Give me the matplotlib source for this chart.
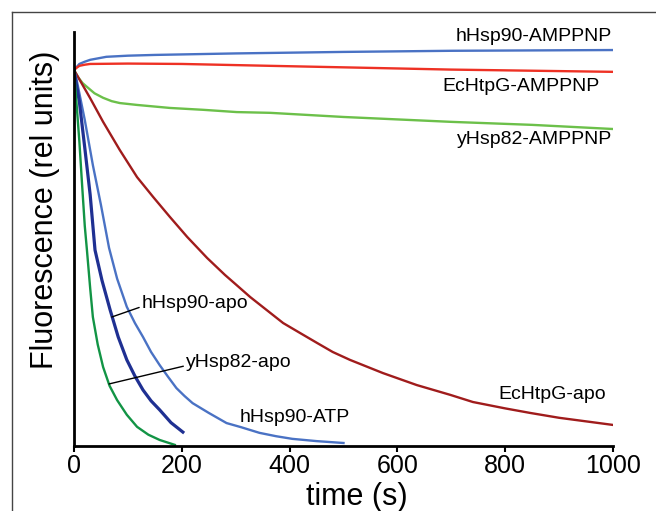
import matplotlib
matplotlib.use("Agg")
import matplotlib.pyplot as plt
from matplotlib.lines import Line2D

plt.rcParams["font.family"] = ["Liberation Sans", "DejaVu Sans"]

# time (s) and fluorescence (rel units, start = 1)
t_h90_amppnp = [0, 5, 10, 20, 30, 45, 60, 100, 150, 300, 500, 700, 1000]
f_h90_amppnp = [1.0, 1.008, 1.016, 1.022, 1.027, 1.031, 1.035, 1.038, 1.040,
                1.044, 1.048, 1.051, 1.053]

t_ec_amppnp = [0, 5, 10, 20, 30, 100, 200, 364, 500, 700, 1000]
f_ec_amppnp = [1.0, 1.006, 1.011, 1.014, 1.016, 1.017, 1.016, 1.011, 1.007,
               1.001, 0.995]

t_y82_amppnp = [0, 8, 16, 24, 38, 54, 70, 85, 117, 178, 240, 302, 364, 500,
                700, 850, 1000]
f_y82_amppnp = [1.0, 0.980, 0.965, 0.955, 0.938, 0.926, 0.917, 0.912, 0.907,
                0.899, 0.894, 0.888, 0.886, 0.875, 0.862, 0.854, 0.843]

t_ec_apo = [0, 30, 54, 85, 117, 147, 178, 210, 247, 280, 300, 327, 388, 420,
            451, 480, 512, 573, 636, 698, 740, 800, 846, 900, 1000]
f_ec_apo = [1.0, 0.925, 0.862, 0.787, 0.715, 0.662, 0.609, 0.556, 0.500,
            0.455, 0.430, 0.396, 0.327, 0.300, 0.274, 0.250, 0.229, 0.194,
            0.162, 0.136, 0.117, 0.100, 0.088, 0.075, 0.056]

t_h90_atp = [0, 5, 20, 35, 50, 65, 80, 98, 113, 128, 143, 159, 175, 190, 205,
             220, 250, 283, 310, 344, 375, 405, 450, 500]
f_h90_atp = [1.0, 0.973, 0.867, 0.747, 0.641, 0.527, 0.445, 0.370, 0.327,
             0.290, 0.250, 0.215, 0.183, 0.154, 0.133, 0.114, 0.088, 0.061,
             0.050, 0.035, 0.026, 0.019, 0.013, 0.008]

t_h90_apo = [0, 10, 20, 30, 39, 52, 67, 82, 98, 113, 128, 143, 159, 180, 202]
f_h90_apo = [1.0, 0.915, 0.793, 0.668, 0.521, 0.440, 0.362, 0.290, 0.229,
             0.186, 0.149, 0.120, 0.096, 0.062, 0.037]

t_y82_apo = [0, 5, 10, 15, 20, 24, 30, 35, 44, 54, 66, 80, 98, 117, 138, 159, 187]
f_y82_apo = [1.0, 0.905, 0.809, 0.695, 0.585, 0.521, 0.420, 0.343, 0.270,
             0.210, 0.160, 0.122, 0.083, 0.051, 0.030, 0.016, 0.003]

xticks = [0, 200, 400, 600, 800, 1000]

fig = plt.figure(figsize=(6.56, 5.11), dpi=100)
ax = fig.add_axes([0.1128, 0.1272, 0.8217, 0.8102])

lw = 1.7
ax.plot(t_h90_amppnp, f_h90_amppnp, color="#4a72c4", lw=lw)
ax.plot(t_ec_amppnp, f_ec_amppnp, color="#ee3124", lw=lw)
ax.plot(t_y82_amppnp, f_y82_amppnp, color="#6cc04a", lw=lw)
ax.plot(t_ec_apo, f_ec_apo, color="#a01c1c", lw=lw)
ax.plot(t_h90_atp, f_h90_atp, color="#4a72c4", lw=lw)
ax.plot(t_h90_apo, f_h90_apo, color="#1f3092", lw=2.3)
ax.plot(t_y82_apo, f_y82_apo, color="#129445", lw=lw)

ax.set_xlim(0, 1000)
ax.set_ylim(0, 1.101)
ax.set_xticks(xticks)
ax.set_xticklabels([str(v) for v in xticks])
ax.set_yticks([])
ax.tick_params(axis="x", direction="out", length=4, width=1.5, labelsize=18, pad=2)
for side in ["top", "right"]:
    ax.spines[side].set_visible(False)
for side in ["left", "bottom"]:
    ax.spines[side].set_linewidth(2)

ax.set_xlabel("time (s)", fontsize=22, va="center")
ax.xaxis.set_label_coords(0.525, -0.123)
ax.set_ylabel("Fluorescence (rel units)", fontsize=22, va="center")
ax.yaxis.set_label_coords(-0.054, 0.57)

fs = 14
ax.text(998, 1.088, "hHsp90-AMPPNP", fontsize=fs, ha="right", va="center")
ax.text(976, 0.957, "EcHtpG-AMPPNP", fontsize=fs, ha="right", va="center")
ax.text(998, 0.814, "yHsp82-AMPPNP", fontsize=fs, ha="right", va="center")
ax.text(788, 0.138, "EcHtpG-apo", fontsize=fs, ha="left", va="center")
ax.text(308, 0.077, "hHsp90-ATP", fontsize=fs, ha="left", va="center")
ax.annotate("hHsp90-apo", xy=(70, 0.343), xytext=(126, 0.380), fontsize=fs,
            ha="left", va="center",
            arrowprops=dict(arrowstyle="-", color="black", lw=1,
                            shrinkA=0, shrinkB=0, relpos=(0, 0.3)))
ax.annotate("yHsp82-apo", xy=(65, 0.165), xytext=(208, 0.223), fontsize=fs,
            ha="left", va="center",
            arrowprops=dict(arrowstyle="-", color="black", lw=1,
                            shrinkA=0, shrinkB=0, relpos=(0, 0.3)))

# partial frame around the panel
fx = 12 / 656
fy = 1 - 12 / 511
fig.add_artist(Line2D([fx, fx], [0, fy], color="#444444", lw=1))
fig.add_artist(Line2D([fx, 1], [fy, fy], color="#444444", lw=1))

fig.savefig("out.png", dpi=100)
